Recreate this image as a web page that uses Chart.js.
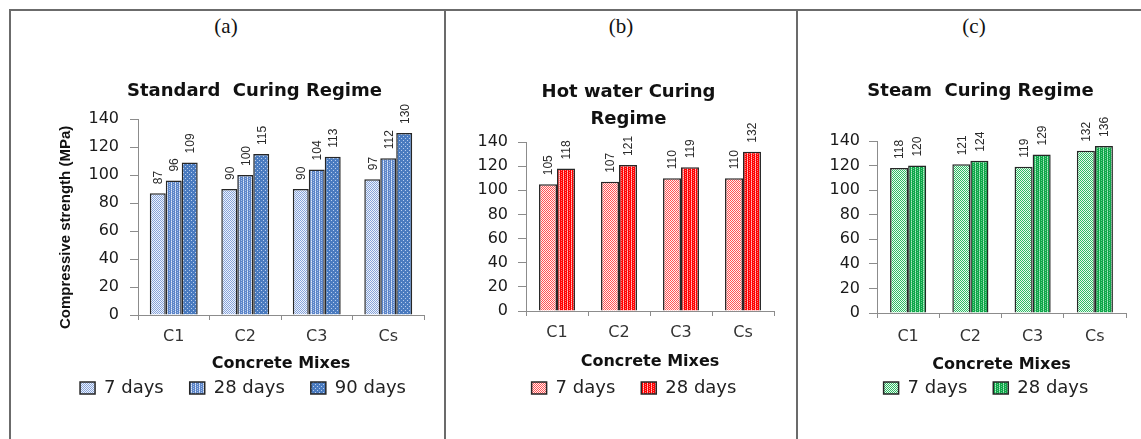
<!DOCTYPE html>
<html>
<head>
<meta charset="utf-8">
<script src="https://cdn.jsdelivr.net/npm/chart.js@4.4.1/dist/chart.umd.min.js"></script>
<style>
  body { margin: 0; background: #fff; width: 1141px; height: 439px; overflow: hidden; position: relative; }
  .rule { position: absolute; background: #6b6b6b; }
  .tag { position: absolute; top: 14px; width: 60px; margin-left: -30px; text-align: center;
         font: 21px/24px 'Liberation Serif', 'DejaVu Serif', serif; color: #111; }
  canvas { position: absolute; top: 11px; }
</style>
</head>
<body>
<div class="rule" style="left:9px;top:9px;width:1132px;height:2px"></div>
<div class="rule" style="left:9px;top:9px;width:2px;height:430px"></div>
<div class="rule" style="left:444px;top:9px;width:2px;height:430px"></div>
<div class="rule" style="left:796px;top:9px;width:2px;height:430px"></div>

<div class="tag" style="left:226px">(a)</div>
<div class="tag" style="left:621px">(b)</div>
<div class="tag" style="left:974px">(c)</div>

<canvas id="standard" width="435" height="427" style="left:10px"></canvas>
<canvas id="hotWater" width="351" height="427" style="left:446px"></canvas>
<canvas id="steam" width="343" height="427" style="left:798px"></canvas>

<script>
// Concrete mixes on the x axis
const mixes = ['C1', 'C2', 'C3', 'Cs'];
// Compressive strength axis ticks (MPa)
const strengthTicks = [0, 20, 40, 60, 80, 100, 120, 140];
// Curing ages
const ages = ['7 days', '28 days', '90 days'];

// Standard curing regime
const standard7 = [87, 90, 90, 97];
const standard28 = [96, 100, 104, 112];
const standard90 = [109, 115, 113, 130];
// Hot water curing regime
const hotWater7 = [105, 107, 110, 110];
const hotWater28 = [118, 121, 119, 132];
// Steam curing regime
const steam7 = [118, 121, 119, 132];
const steam28 = [120, 124, 129, 136];

// Small repeating textures for the bar fills
function texture(ctx, w, h, base, spots) {
  const c = document.createElement('canvas');
  c.width = w; c.height = h;
  const g = c.getContext('2d');
  g.fillStyle = base;
  g.fillRect(0, 0, w, h);
  spots.forEach(([x, y, col]) => { g.fillStyle = col; g.fillRect(x, y, 1, 1); });
  return ctx.createPattern(c, 'repeat');
}
function checker(ctx, base, light) {
  const s = [];
  for (let y = 0; y < 4; y++) for (let x = 0; x < 4; x++) if ((x + y) % 2 === 0) s.push([x, y, light]);
  return texture(ctx, 4, 4, base, s);
}
function stripes(ctx, base, light, lighter) {
  return texture(ctx, 4, 4, base, [
    [1, 0, lighter], [1, 1, light], [1, 2, lighter], [1, 3, light],
    [3, 1, light], [3, 3, light]
  ]);
}
function dots(ctx, base, dot) {
  return texture(ctx, 4, 4, base, [[1, 1, dot], [3, 3, dot]]);
}

const fills = {
  blue7: ctx => checker(ctx, '#86a3da', '#eef3fb'),
  blue28: ctx => stripes(ctx, '#5b84c8', '#a6bfe8', '#e3ebf8'),
  blue90: ctx => dots(ctx, '#4a7bbf', '#b9cdee'),
  red7: ctx => checker(ctx, '#ff5454', '#fff0f0'),
  red28: ctx => stripes(ctx, '#ff0000', '#ff7a7a', '#ffc8c8'),
  green7: ctx => checker(ctx, '#2fb963', '#eafaf0'),
  green28: ctx => stripes(ctx, '#0ea548', '#66d190', '#b8ecc9')
};

// Rotated value labels above each bar
const barValueLabels = {
  id: 'barValueLabels',
  afterDatasetsDraw(chart) {
    const { ctx } = chart;
    ctx.save();
    ctx.font = '12px "Liberation Sans", Arial, sans-serif';
    ctx.fillStyle = '#2a2a2a';
    ctx.textAlign = 'left';
    ctx.textBaseline = 'middle';
    chart.data.datasets.forEach((ds, i) => {
      chart.getDatasetMeta(i).data.forEach((bar, j) => {
        ctx.save();
        ctx.translate(bar.x + 1, bar.y - 9);
        ctx.rotate(-Math.PI / 2);
        ctx.fillText(String(ds.data[j]), 0, 0);
        ctx.restore();
      });
    });
    ctx.restore();
  }
};

// Horizontal nudge of the title and legend blocks after layout
const blockOffsets = {
  id: 'blockOffsets',
  afterLayout(chart, args, opts) {
    const t = chart.titleBlock, l = chart.legend;
    if (t && opts.title) { t.left += opts.title; t.right += opts.title; }
    if (l && opts.legend) { l.left += opts.legend; l.right += opts.legend; }
  }
};

const sans = 'DejaVu Sans';
const axisGrey = '#8c8c8c';

function buildChart(id, cfg) {
  const ctx = document.getElementById(id).getContext('2d');
  return new Chart(ctx, {
    type: 'bar',
    data: {
      labels: mixes,
      datasets: cfg.series.map(s => ({
        label: s.name,
        data: s.values,
        backgroundColor: s.fill(ctx),
        borderColor: '#262626',
        borderWidth: 1.5
      }))
    },
    options: {
      responsive: false,
      animation: false,
      devicePixelRatio: 1,
      layout: { padding: { left: cfg.padL, right: cfg.padR, top: 0, bottom: 31 } },
      datasets: { bar: { categoryPercentage: cfg.catPct, barPercentage: 1 } },
      plugins: {
        blockOffsets: { title: cfg.titleShift, legend: cfg.legendShift },
        title: {
          display: true,
          text: cfg.title,
          color: '#111',
          font: { family: sans, size: 18, weight: 'bold', lineHeight: cfg.titleLH },
          padding: { top: cfg.titleTop, bottom: cfg.titleBottom }
        },
        legend: {
          position: 'bottom',
          labels: {
            color: '#222',
            font: { family: sans, size: 18 },
            boxWidth: 15,
            boxHeight: 12,
            padding: 26
          }
        },
        tooltip: { enabled: false }
      },
      scales: {
        x: {
          afterFit: s => { s.height = cfg.xHeight; },
          grid: { drawOnChartArea: false, tickLength: 5, color: axisGrey },
          border: { color: axisGrey },
          ticks: { padding: cfg.xTickPad, color: '#333', font: { family: sans, size: 16 } },
          title: {
            display: true,
            text: 'Concrete Mixes',
            color: '#111',
            font: { family: sans, size: 16, weight: 'bold' },
            padding: { top: 0, bottom: cfg.xTitleBottom }
          }
        },
        y: {
          min: strengthTicks[0],
          max: strengthTicks[strengthTicks.length - 1],
          afterFit: s => { s.width = cfg.yWidth; },
          afterBuildTicks: s => { s.ticks = strengthTicks.map(v => ({ value: v })); },
          grid: { drawOnChartArea: false, tickLength: 8, color: axisGrey },
          border: { color: axisGrey },
          ticks: { autoSkip: false, padding: cfg.yTickPad, color: '#1a1a1a', font: { family: sans, size: 16 } },
          title: cfg.yTitle ? {
            display: true,
            text: cfg.yTitle,
            color: '#111',
            font: { family: "'Liberation Sans', Arial, sans-serif", size: 15, weight: 'bold' },
            padding: { top: cfg.yTitlePad, bottom: 0 }
          } : { display: false }
        }
      }
    },
    plugins: [barValueLabels, blockOffsets]
  });
}

buildChart('standard', {
  title: 'Standard  Curing Regime',
  titleLH: 1.2, titleTop: 69.2, titleBottom: 17.2,
  padL: 30, padR: 21, yWidth: 98, yTickPad: 11,
  titleShift: 22.5, legendShift: 11,
  xHeight: 38, xTickPad: 7, xTitleBottom: -20.6,
  catPct: 0.67,
  // trailing spaces keep the rotated title sitting a little lower along the axis
  yTitle: 'Compressive strength (MPa)     ', yTitlePad: 17,
  series: [
    { name: ages[0], values: standard7, fill: fills.blue7 },
    { name: ages[1], values: standard28, fill: fills.blue28 },
    { name: ages[2], values: standard90, fill: fills.blue90 }
  ]
});

buildChart('hotWater', {
  title: ['Hot water Curing', 'Regime'],
  titleLH: 1.5, titleTop: 67.5, titleBottom: 9.5,
  padL: 30, padR: 23, yWidth: 50, yTickPad: 10,
  titleShift: 3.5, legendShift: 9,
  xHeight: 42, xTickPad: 7, xTitleBottom: -18.6,
  catPct: 0.58,
  series: [
    { name: ages[0], values: hotWater7, fill: fills.red7 },
    { name: ages[1], values: hotWater28, fill: fills.red28 }
  ]
});

buildChart('steam', {
  title: 'Steam  Curing Regime',
  titleLH: 1.2, titleTop: 69.2, titleBottom: 39.2,
  padL: 30, padR: 15, yWidth: 49, yTickPad: 9,
  titleShift: 3.5, legendShift: 9,
  xHeight: 40, xTickPad: 9, xTitleBottom: -21.6,
  catPct: 0.58,
  series: [
    { name: ages[0], values: steam7, fill: fills.green7 },
    { name: ages[1], values: steam28, fill: fills.green28 }
  ]
});
</script>
</body>
</html>
